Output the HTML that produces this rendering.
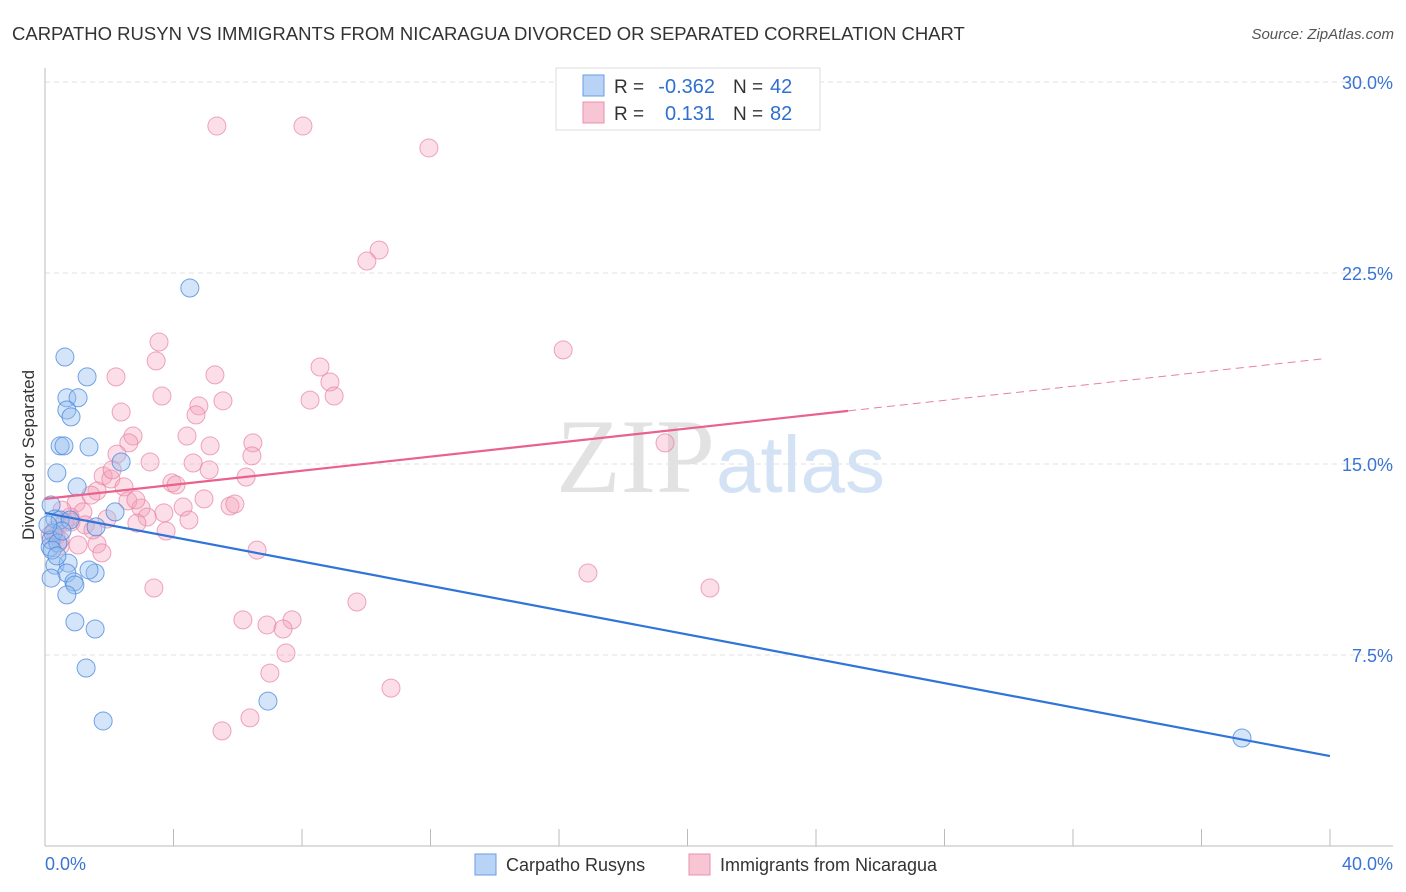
<!DOCTYPE html>
<html><head><meta charset="utf-8"><style>
body{margin:0;background:#fff;font-family:"Liberation Sans",sans-serif;}
svg{display:block}
</style></head><body>
<svg id="c" width="1406" height="892" xmlns="http://www.w3.org/2000/svg">
<text x="12" y="40" font-size="18.5" fill="#333">CARPATHO RUSYN VS IMMIGRANTS FROM NICARAGUA DIVORCED OR SEPARATED CORRELATION CHART</text>
<text x="1394" y="39" font-size="15" fill="#555" font-style="italic" text-anchor="end">Source: ZipAtlas.com</text>
<text x="715" y="492" font-size="106" fill="#e2e2e2" text-anchor="end" font-family="Liberation Serif,serif">ZIP</text>
<text x="716" y="492" font-size="80" fill="#d3e2f4">atlas</text>
<g id="grid"></g><g id="axes"></g><g id="pts"></g><g id="lines"></g>
<g>
<rect x="556" y="68" width="264" height="62" fill="#fff" stroke="#ddd"/>
<rect x="583" y="75" width="21" height="21" fill="#b8d3f5" stroke="#6a9ee0"/>
<rect x="583" y="102" width="21" height="21" fill="#f8c5d4" stroke="#e891ad"/>
<text x="614" y="93" font-size="19" fill="#333">R =</text>
<text x="715" y="93" font-size="20" fill="#2f6fd0" text-anchor="end">-0.362</text>
<text x="733" y="93" font-size="19" fill="#333">N =</text>
<text x="770" y="93" font-size="20" fill="#2f6fd0">42</text>
<text x="614" y="120" font-size="19" fill="#333">R =</text>
<text x="715" y="120" font-size="20" fill="#2f6fd0" text-anchor="end">0.131</text>
<text x="733" y="120" font-size="19" fill="#333">N =</text>
<text x="770" y="120" font-size="20" fill="#2f6fd0">82</text>
</g>
<text transform="translate(34,455) rotate(-90)" font-size="17" fill="#333" text-anchor="middle">Divorced or Separated</text>
<g>
<rect x="475" y="854" width="21" height="21" fill="#b8d3f5" stroke="#6a9ee0"/>
<text x="506" y="871" font-size="18" fill="#333">Carpatho Rusyns</text>
<rect x="689" y="854" width="21" height="21" fill="#f8c5d4" stroke="#e891ad"/>
<text x="720" y="871" font-size="18" fill="#333">Immigrants from Nicaragua</text>
</g>
</svg>
<script>
const blueX=[0.62,1.31,0.68,1.03,0.68,0.81,0.47,0.59,1.37,2.37,0.37,1.00,2.18,0.19,1.59,0.31,0.47,0.25,0.16,0.19,0.40,0.31,0.72,0.68,1.56,1.37,0.90,0.93,0.68,0.19,0.93,1.56,1.28,1.81,6.94,4.51,37.26,0.78,0.22,0.53,0.09,0.37];
const blueY=[19.20,18.42,17.60,17.60,17.12,16.85,15.71,15.71,15.67,15.08,14.65,14.10,13.12,13.39,12.53,12.84,12.80,12.29,11.74,12.02,11.90,11.03,11.11,10.72,10.72,10.84,10.37,10.25,9.86,10.52,8.80,8.52,6.99,4.91,5.69,21.91,4.24,12.80,11.62,12.37,12.61,11.39];
const pinkX=[5.35,8.03,11.95,10.40,10.02,16.13,3.55,3.46,8.56,2.21,5.29,8.87,3.64,5.54,8.25,9.00,4.79,4.70,2.37,4.42,2.74,6.47,2.61,5.14,6.44,2.24,3.27,4.61,5.11,1.81,6.26,2.05,2.46,1.62,3.95,4.08,4.95,0.97,2.58,1.43,2.99,4.30,1.18,5.76,5.91,3.70,3.18,0.78,1.93,4.48,0.81,2.86,1.25,3.77,0.31,0.34,0.47,1.03,1.62,1.77,6.60,19.30,16.90,20.70,3.39,9.71,6.16,7.69,6.91,7.41,7.50,7.00,10.77,6.38,5.51,0.47,0.16,0.62,2.09,2.83,0.53,1.49];
const pinkY=[28.27,28.27,27.41,23.40,22.97,19.48,19.79,19.05,18.81,18.42,18.50,18.22,17.67,17.48,17.51,17.67,17.28,16.93,17.04,16.10,16.10,15.83,15.83,15.71,15.32,15.39,15.08,15.04,14.77,14.53,14.49,14.41,14.10,13.94,14.26,14.18,13.63,13.47,13.55,13.78,13.27,13.31,13.12,13.35,13.43,13.08,12.92,12.92,12.84,12.80,12.72,12.68,12.61,12.37,12.41,12.17,11.78,11.82,11.86,11.51,11.62,15.83,10.72,10.13,10.13,9.58,8.88,8.88,8.68,8.52,7.58,6.79,6.20,5.03,4.52,12.02,12.21,12.72,14.77,13.59,13.19,12.41];
const blueTrend=[13.08,3.53];
const pinkTrend=[13.63,19.16];
const pinkSolidEnd=25;
const yTicks=[7.5,15.0,22.5,30.0];
const yTickLabels=["7.5%","15.0%","22.5%","30.0%"];
const xTicks=[0,4,8,12,16,20,24,28,32,36,40];
const xTickLabels=["0.0%","40.0%"];

const NS="http://www.w3.org/2000/svg";
const X=v=>45+v/40*1285, Y=v=>846-v/7.5*191;
function mk(tag,attrs,parent){const e=document.createElementNS(NS,tag);for(const k in attrs)e.setAttribute(k,attrs[k]);parent.appendChild(e);return e;}
const grid=document.getElementById('grid'),axes=document.getElementById('axes'),pts=document.getElementById('pts'),lines=document.getElementById('lines');
yTicks.forEach((t,i)=>{
 const l=mk('line',{x1:45,x2:1393,y1:Y(t),y2:Y(t),stroke:'#e2e2e2','stroke-dasharray':'5,4'},grid);
 
 
 const tx=mk('text',{x:1393,y:Y(t)+7,'font-size':18,fill:'#3a74d4','text-anchor':'end'},axes);
 tx.textContent=yTickLabels[i];
 
 
});
const ax=mk('line',{x1:45,x2:1393,y1:846,y2:846,stroke:'#bbb'},axes);


const ay=mk('line',{x1:45,x2:45,y1:68,y2:846,stroke:'#bbb'},axes);


xTicks.forEach(t=>{
 const l=mk('line',{x1:X(t),x2:X(t),y1:829,y2:846,stroke:'#bbb'},axes);
 
 
});
const xl0=mk('text',{x:45,y:870,'font-size':18,fill:'#3a74d4'},axes);
xl0.textContent=xTickLabels[0];


const xl1=mk('text',{x:1393,y:870,'font-size':18,fill:'#3a74d4','text-anchor':'end'},axes);
xl1.textContent=xTickLabels[1];


pinkX.forEach((v,i)=>{
 const c=mk('circle',{cx:X(v),cy:Y(pinkY[i]),r:9,fill:'rgba(244,160,186,0.35)',stroke:'rgba(232,128,162,0.7)','stroke-width':1},pts);
 
 
});
blueX.forEach((v,i)=>{
 const c=mk('circle',{cx:X(v),cy:Y(blueY[i]),r:9,fill:'rgba(150,190,240,0.4)',stroke:'rgba(70,135,220,0.75)','stroke-width':1},pts);
 
 
});
const bl=mk('line',{x1:X(0),y1:Y(blueTrend[0]),x2:X(40),y2:Y(blueTrend[1]),stroke:'#2f74d8','stroke-width':2.2},lines);


const pm=pinkTrend[0]+(pinkTrend[1]-pinkTrend[0])*pinkSolidEnd/40;
const pl=mk('line',{x1:X(0),y1:Y(pinkTrend[0]),x2:X(pinkSolidEnd),y2:Y(pm),stroke:'#e8628c','stroke-width':2.2},lines);


const pd=mk('line',{x1:X(pinkSolidEnd),y1:Y(pm),x2:X(39.85),y2:Y(pinkTrend[0]+(pinkTrend[1]-pinkTrend[0])*39.85/40),stroke:'#e8829f','stroke-width':1,'stroke-dasharray':'8,5'},lines);


</script>
</body></html>
